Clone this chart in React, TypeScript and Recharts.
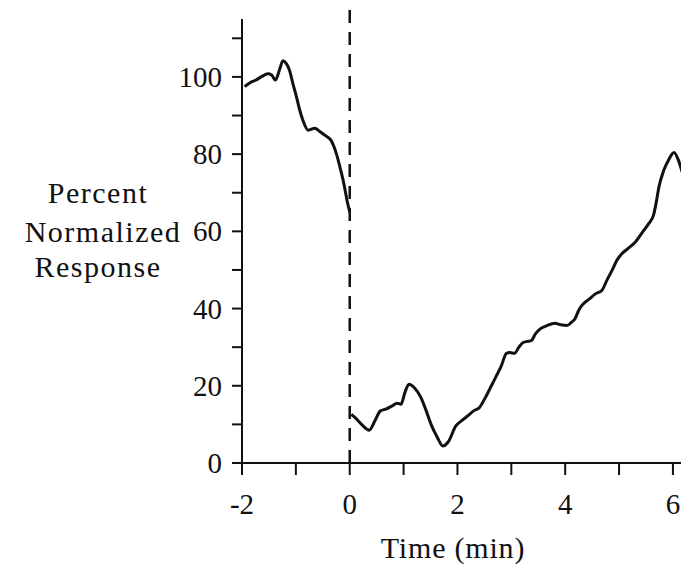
import { LineChart, Line, XAxis, YAxis, ReferenceLine } from "recharts";

// Response before the stimulus (min, % normalized)
const preTime = [
  -1.95, -1.85, -1.74, -1.62, -1.52, -1.45, -1.38, -1.3, -1.24, -1.18, -1.12,
  -1.05, -0.99, -0.93, -0.87, -0.77, -0.65, -0.55, -0.45, -0.34, -0.25, -0.17,
  -0.11, -0.05, 0.0,
];
const preResponse = [
  97.5, 98.5, 99.2, 100.2, 100.8, 100.5, 99.2, 102, 104.2, 103.5, 101.8, 98,
  94.9, 91.5, 88.8, 86.2, 86.7, 85.8, 84.8, 83.4, 80.2, 76, 72.4, 68, 65,
];

// Response after the stimulus
const postTime = [
  0.03, 0.12, 0.22, 0.36, 0.47, 0.57, 0.68, 0.79, 0.88, 0.95, 1.03, 1.1, 1.2,
  1.32, 1.42, 1.51, 1.62, 1.73, 1.83, 1.97, 2.08, 2.19, 2.3, 2.41, 2.52, 2.63,
  2.72, 2.81, 2.91, 2.97, 3.06, 3.14, 3.22, 3.3, 3.37, 3.45, 3.53, 3.65, 3.81,
  3.92, 4.03, 4.12, 4.18, 4.25, 4.31, 4.45, 4.56, 4.68, 4.78, 4.87, 4.96, 5.05,
  5.18, 5.3, 5.42, 5.55, 5.64, 5.69, 5.74, 5.83, 5.92, 6.02, 6.1, 6.17,
];
const postResponse = [
  12.6, 11.5, 10, 8.5, 11, 13.5, 14, 14.8, 15.5, 15.2, 18.5, 20.4, 19.5, 17.0,
  13.5, 10.0, 6.8, 4.4, 5.5, 9.6, 11, 12.2, 13.5, 14.4, 17, 20, 22.5, 25, 28.4,
  28.6, 28.4, 30, 31.2, 31.5, 31.7, 33.5, 34.7, 35.5, 36.2, 35.8, 35.6, 36.5,
  37.3, 39.5, 40.8, 42.5, 43.8, 44.7, 47.5, 49.9, 52.5, 54.2, 55.7, 57.2, 59.5,
  62.0, 64.2, 67.5, 71.5, 75.8, 78.5, 80.4, 78.5, 75.4,
];

const timeTicks = [-2, -1, 0, 1, 2, 3, 4, 5, 6];
const responseTicks = [0, 10, 20, 30, 40, 50, 60, 70, 80, 90, 100, 110];

const FONT = "'Liberation Serif', 'Times New Roman', serif";
const textStyle = { fontFamily: FONT, fontSize: 29 };

const preData = preTime.map((t, i) => ({ t, v: preResponse[i] }));
const postData = postTime.map((t, i) => ({ t, v: postResponse[i] }));

// only even minutes get a label
const XTick = (props: any) => {
  const { x, y, payload } = props;
  if (payload.value % 2 !== 0) return <g />;
  return (
    <text x={x} y={y + 37} textAnchor="middle" style={textStyle} fill="#111">
      {payload.value}
    </text>
  );
};

// labels every 20, minor ticks every 10
const YTick = (props: any) => {
  const { x, y, payload } = props;
  if (payload.value % 20 !== 0) return <g />;
  return (
    <text x={x - 8} y={y + 10} textAnchor="end" style={textStyle} fill="#111">
      {payload.value}
    </text>
  );
};

export default function App() {
  return (
    <div style={{ position: "absolute", left: 0, top: 0, background: "#fff" }}>
      <LineChart
        width={691}
        height={564}
        margin={{ top: 19, right: 10, bottom: 0, left: 0 }}
      >
        <XAxis
          type="number"
          dataKey="t"
          domain={[-2, 6.15]}
          ticks={timeTicks}
          allowDataOverflow
          tickSize={12}
          axisLine={{ stroke: "#111", strokeWidth: 2 }}
          tickLine={{ stroke: "#111", strokeWidth: 2 }}
          tick={XTick}
          height={101}
        />
        <YAxis
          type="number"
          domain={[0, 115]}
          ticks={responseTicks}
          allowDataOverflow
          tickSize={10}
          axisLine={{ stroke: "#111", strokeWidth: 2 }}
          tickLine={{ stroke: "#111", strokeWidth: 2 }}
          tick={YTick}
          width={242}
        />
        <ReferenceLine
          segment={[
            { x: 0, y: 0 },
            { x: 0, y: 117.5 },
          ]}
          ifOverflow="visible"
          stroke="#111"
          strokeWidth={2.5}
          strokeDasharray="13 9"
        />
        <Line
          data={preData}
          dataKey="v"
          type="monotone"
          stroke="#111"
          strokeWidth={3}
          dot={false}
          isAnimationActive={false}
        />
        <Line
          data={postData}
          dataKey="v"
          type="monotone"
          stroke="#111"
          strokeWidth={3}
          dot={false}
          isAnimationActive={false}
        />
        <g>
          <text
            style={{ ...textStyle, fontSize: 30, letterSpacing: 1.5 }}
            fill="#111"
            textAnchor="middle"
          >
            <tspan x={98} y={203}>Percent</tspan>
            <tspan x={103} y={242}>Normalized</tspan>
            <tspan x={98} y={277}>Response</tspan>
          </text>
          <text
            x={453}
            y={558}
            style={{ ...textStyle, fontSize: 30, letterSpacing: 0.8 }}
            fill="#111"
            textAnchor="middle"
          >
            Time (min)
          </text>
        </g>
      </LineChart>
    </div>
  );
}
